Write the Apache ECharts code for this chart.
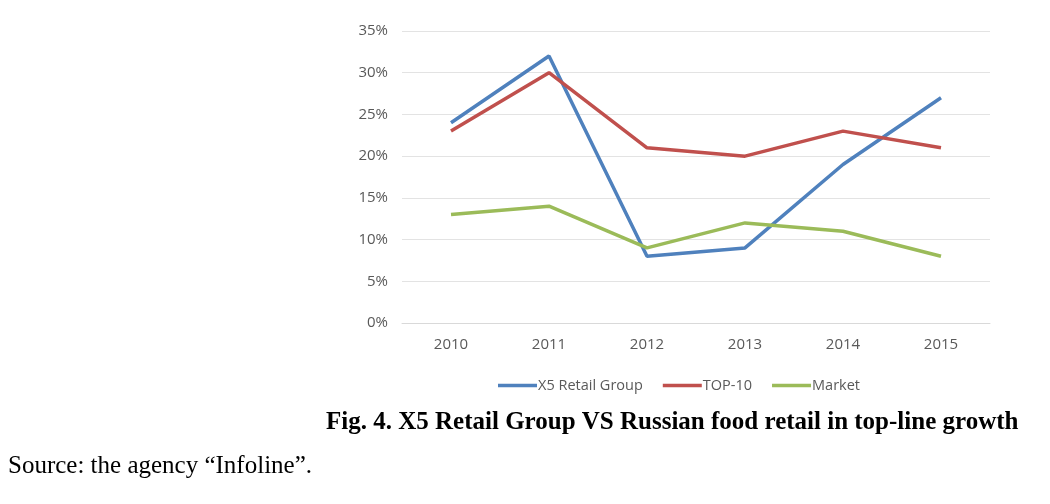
<!DOCTYPE html>
<html>
<head>
<meta charset="utf-8">
<script src="https://cdn.jsdelivr.net/npm/echarts@6/dist/echarts.min.js"></script>
<style>
  html, body { margin: 0; padding: 0; background: #fff; }
  #main { width: 1050px; height: 504px; }
</style>
</head>
<body>
<div id="main"></div>
<script>
// years on the x axis
var years = ['2010', '2011', '2012', '2013', '2014', '2015'];
// top-line growth, %
var x5Retail = [24, 32, 8, 9, 19, 27];
var top10 = [23, 30, 21, 20, 23, 21];
var market = [13, 14, 9, 12, 11, 8];

var chart = echarts.init(document.getElementById('main'));

function makeLine(name, data, color) {
    return {
        name: name,
        type: 'line',
        data: data,
        showSymbol: false,
        symbol: 'none',
        lineStyle: { width: 3.5, color: color },
        itemStyle: { color: color },
        z: 3
    };
}

var option = {
    animation: false,
    backgroundColor: '#fff',
    grid: { left: 402, right: 60, top: 31, bottom: 181 },
    legend: {
        top: 373,
        left: 493,
        icon: 'rect',
        itemWidth: 39,
        itemHeight: 3.5,
        itemGap: 20,
        textStyle: { fontFamily: 'Open Sans', fontSize: 14.5, color: '#595959', padding: [0, 0, 0, -4] },
        data: ['X5 Retail Group', 'TOP-10', 'Market']
    },
    xAxis: {
        type: 'category',
        data: years,
        boundaryGap: true,
        axisLine: { lineStyle: { color: '#d9d9d9', width: 1 } },
        axisTick: { show: false },
        axisLabel: { fontFamily: 'Open Sans', fontSize: 15, color: '#595959', margin: 14 }
    },
    yAxis: {
        type: 'value',
        min: 0,
        max: 35,
        interval: 5,
        axisLine: { show: false },
        axisTick: { show: false },
        splitLine: { lineStyle: { color: '#e3e3e3', width: 1 } },
        axisLabel: { fontFamily: 'Open Sans', fontSize: 15, color: '#595959', margin: 14, formatter: '{value}%' }
    },
    series: [
        makeLine('X5 Retail Group', x5Retail, '#4f81bd'),
        makeLine('TOP-10', top10, '#c0504d'),
        makeLine('Market', market, '#9bbb59')
    ],
    graphic: [
        {
            type: 'text',
            x: 326,
            y: 423,
            style: {
                text: 'Fig. 4. X5 Retail Group VS Russian food retail in top-line growth',
                font: 'bold 25px "Liberation Serif"',
                verticalAlign: 'middle',
                fill: '#000'
            }
        },
        {
            type: 'text',
            x: 8,
            y: 466,
            style: {
                text: 'Source: the agency \u201cInfoline\u201d.',
                font: '25px "Liberation Serif"',
                verticalAlign: 'middle',
                fill: '#000'
            }
        }
    ]
};

chart.setOption(option);
</script>
</body>
</html>
